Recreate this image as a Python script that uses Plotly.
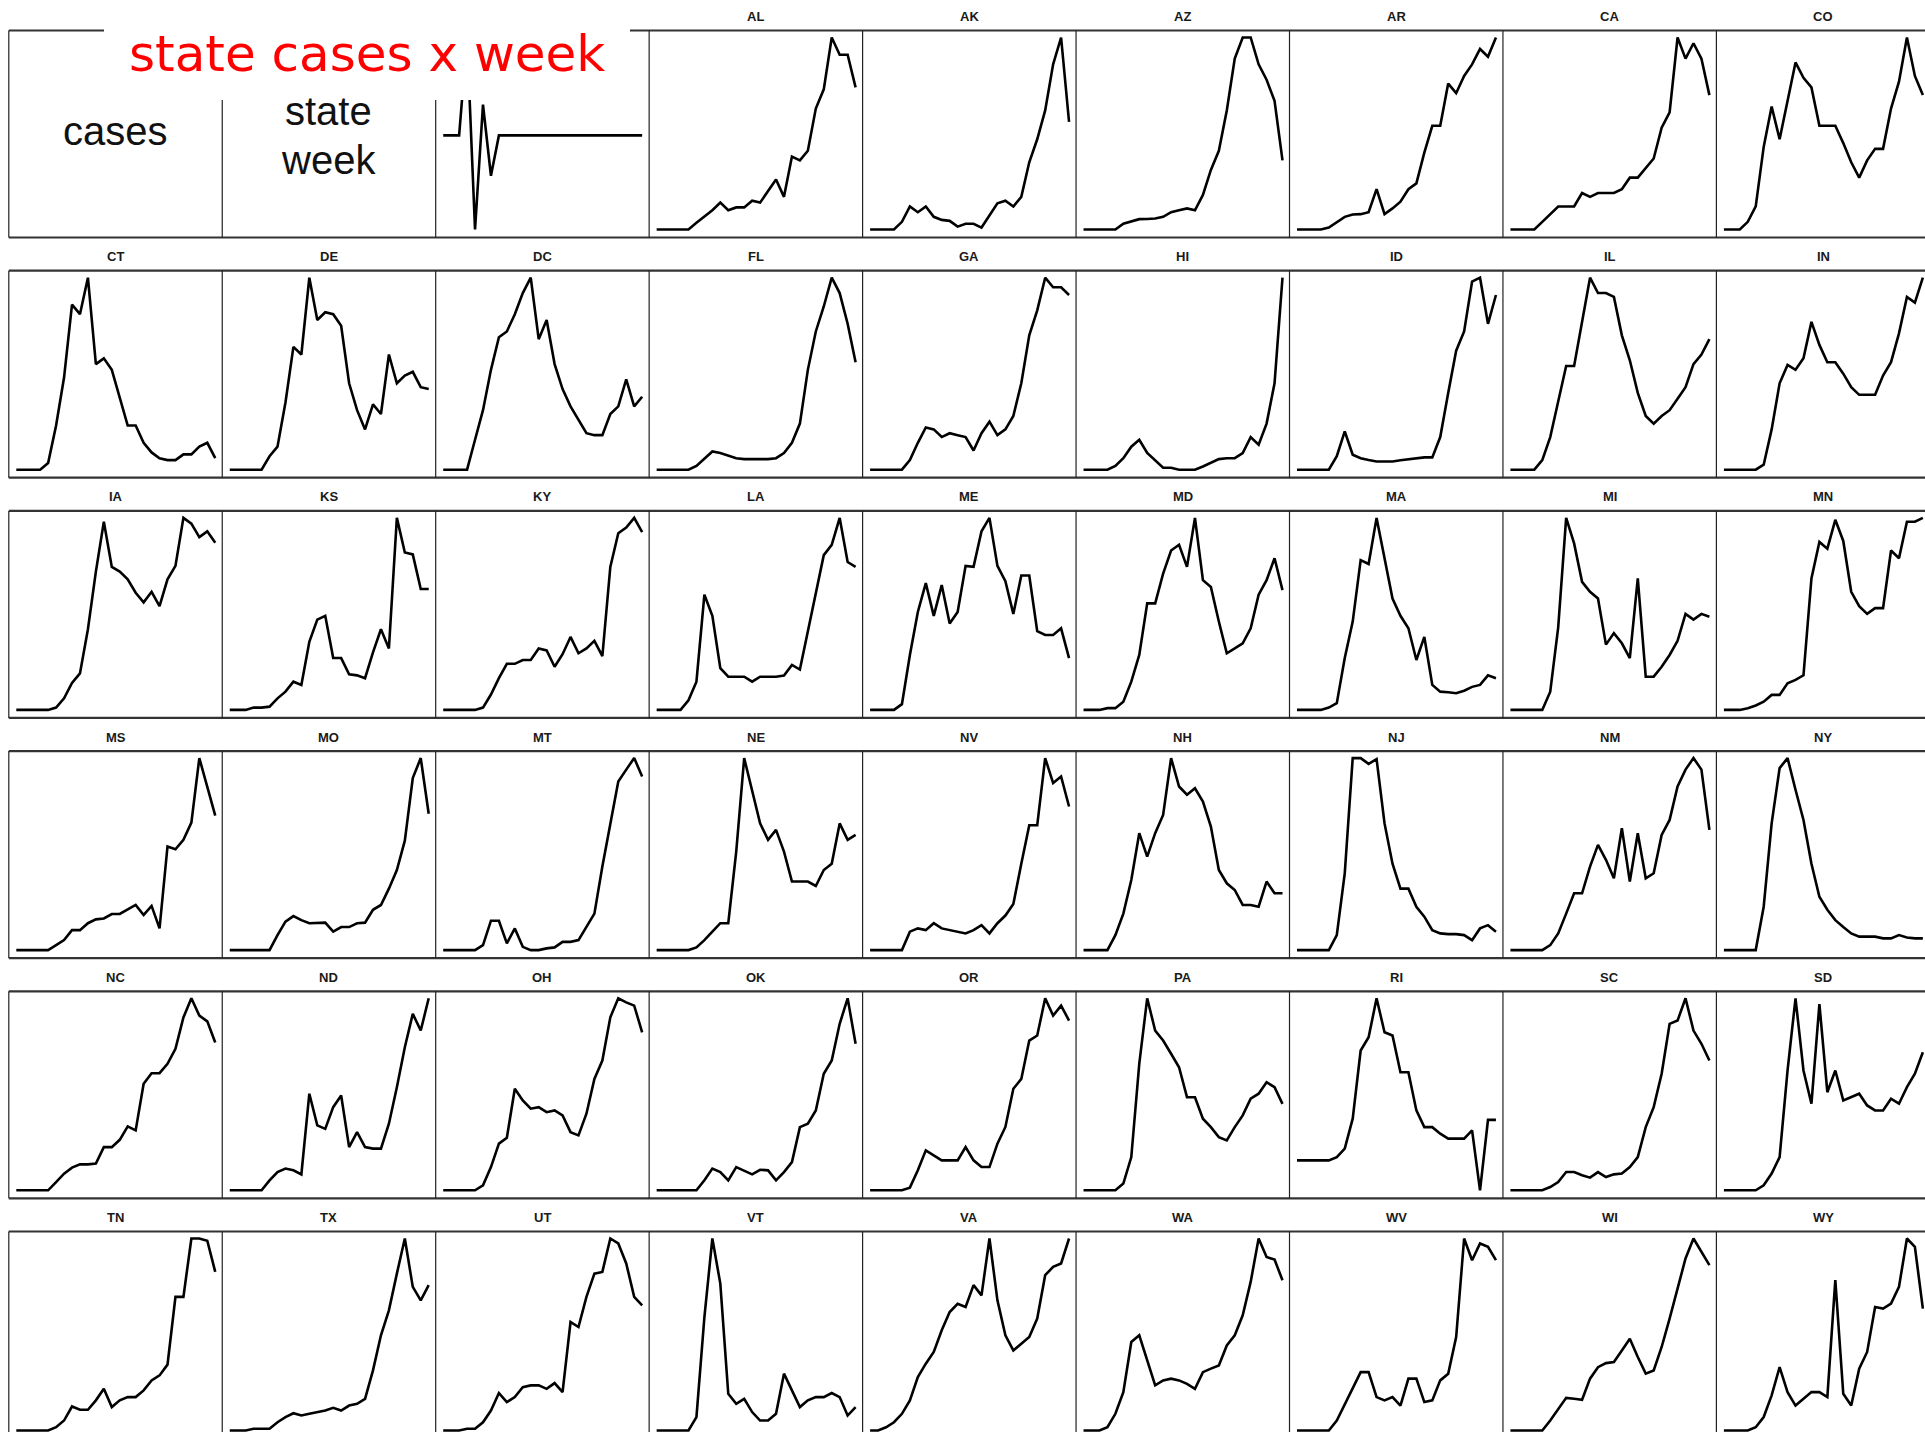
import plotly.graph_objects as go

# ---------------- data (normalised weekly cases, each state scaled to its own max) -------------
weeks = [1, 2, 3, 4, 5, 6, 7, 8, 9, 10, 11, 12, 13, 14, 15, 16, 17, 18, 19, 20, 21, 22, 23, 24, 25, 26]

deviation = [49, 49, 49, 100, 0, 65, 28, 49, 49, 49, 49, 49, 49, 49, 49, 49, 49, 49, 49, 49, 49, 49, 49, 49, 49, 49]

AL = [0, 0, 0, 0, 0, 3.5, 6.6, 10, 14, 10, 11.5, 11.5, 15, 14, 20, 26, 17, 38, 36, 41, 63, 73, 100, 91, 91, 74]
AK = [0, 0, 0, 0, 4, 12, 9, 12, 6.6, 5, 4.5, 1.5, 3, 3, 1, 7.5, 13.6, 15, 12, 17, 35, 47, 62, 86, 100, 56]
AZ = [0, 0, 0, 0, 0, 3, 4, 5.4, 5.5, 5.7, 6.6, 9, 10, 11, 10, 18, 31, 41, 62, 89, 100, 100, 86, 78, 67, 36]
AR = [0, 0, 0, 0, 1, 4, 6.6, 7.8, 8, 9, 21, 8, 11, 14.5, 21, 24, 40, 54, 54, 76, 71, 80, 86, 94, 90, 100]
CA = [0, 0, 0, 0, 4, 8, 12, 12, 12, 19, 17, 19, 19, 19, 21, 27, 27, 32, 37, 53, 61, 100, 89, 97, 89, 70]
CO = [0, 0, 0, 4, 12, 43, 64, 47, 67, 87, 79, 74, 54, 54, 54, 45, 35, 27, 36, 42, 42, 63, 77, 100, 80, 70]
CT = [0, 0, 0, 0, 3.5, 23, 48, 86, 81, 100, 55, 58, 52, 38, 23, 23, 14, 9, 6, 5, 5, 8, 8, 12, 14, 6]
DE = [0, 0, 0, 0, 0, 7, 12, 35, 64, 60, 100, 78, 82, 81, 75, 45, 31, 21, 34, 29, 60, 45, 49, 51, 43, 42]
DC = [0, 0, 0, 0, 15.6, 31, 52, 69, 72, 81, 92, 100, 68, 78, 55, 42, 33, 26, 19, 18, 18, 29, 33, 47, 33, 38]
FL = [0, 0, 0, 0, 0, 2, 6, 9.5, 8.7, 7.5, 6, 5.5, 5.5, 5.5, 5.5, 6, 8.7, 14, 24, 52, 72, 85, 100, 92, 76, 56]
GA = [0, 0, 0, 0, 0, 5, 14, 22, 21, 17, 19, 18, 17, 10, 19, 25, 18, 21, 28, 45, 70, 83, 100, 95, 95, 91]
HI = [0, 0, 0, 0, 2, 6, 12, 15.6, 8.7, 5, 1, 1, 0, 0, 0, 1.7, 3.5, 5.5, 6, 6, 8.7, 17, 13, 24, 45, 100]
ID = [0, 0, 0, 0, 0, 7, 20, 7.8, 6, 5, 4.3, 4.3, 4.3, 4.9, 5.5, 6, 6.4, 6.4, 17, 40, 62, 72, 98, 100, 76, 91]
IL = [0, 0, 0, 0, 5, 17, 35.5, 54, 54, 76, 100, 92, 92, 90, 70, 57, 40, 28, 24, 28, 31, 37, 43, 55, 60, 68]
IN = [0, 0, 0, 0, 0, 2.6, 21, 45, 54.6, 52, 58, 77, 65, 56, 56, 50, 43, 39, 39, 39, 49, 56, 71, 90, 87, 100]
IA = [0, 0, 0, 0, 0, 1.2, 6, 14, 19, 42, 72, 98, 74.5, 72, 68, 61, 56, 61.5, 54, 68, 75, 100, 97, 90, 93, 87]
KS = [0, 0, 0, 1.2, 1.2, 1.7, 6, 9.5, 14.7, 13, 35.5, 47, 49, 27, 27, 18.5, 18, 16.5, 30, 42, 32, 100, 82, 81, 63, 63]
KY = [0, 0, 0, 0, 0, 1.2, 8, 16.5, 24, 24, 26, 26, 32, 31, 22.5, 29, 38, 29.5, 32, 36, 28, 74.5, 92, 95, 100, 92.6]
LA = [0, 0, 0, 0, 5, 14.7, 60, 49, 21.7, 17.3, 17.3, 17.3, 14.7, 17.3, 17.3, 17.3, 17.9, 23.4, 21, 40.7, 60.7, 80.6, 86, 100, 77, 74.5]
ME = [0, 0, 0, 0, 3, 28.6, 51, 66, 49, 65, 45, 51, 75, 74.5, 93, 100, 75, 67, 50, 70, 70, 41, 39, 39, 42.5, 27]
MD = [0, 0, 0, 0.9, 0.9, 4.3, 14.7, 28.6, 55.5, 55.5, 71, 83, 86, 74.5, 100, 67.6, 64, 46, 29.5, 32, 34.7, 42.5, 60, 67.6, 79, 62.4]
MA = [0, 0, 0, 0, 1.2, 3.5, 27, 46, 78, 76, 100, 79, 58, 49, 42.5, 26, 38, 13, 9.5, 9.2, 8.7, 10, 12, 13, 18, 16.5]
MI = [0, 0, 0, 0, 0, 9.5, 43, 100, 86.7, 66.7, 61.5, 58, 34, 40, 34.7, 27, 68.5, 17.3, 17.3, 22.5, 28.6, 36, 50, 47, 50, 48.5]
MN = [0, 0, 0, 0.9, 2.3, 4.3, 7.8, 7.8, 13.9, 15.6, 18, 68.5, 87.5, 84, 99, 88, 61.5, 54, 50, 53, 53, 83, 79, 98, 98, 100]
MS = [0, 0, 0, 0, 0, 2.6, 5.2, 10.4, 10.4, 14, 16, 16.5, 18.8, 18.8, 21, 23.5, 18.3, 23, 11.3, 54, 52.5, 57.4, 66.4, 100, 85, 70]
MO = [0, 0, 0, 0, 0, 0, 7.8, 14.8, 17.7, 15.6, 14, 14, 14.3, 9.6, 12, 12, 14, 14.3, 21, 23.5, 32, 41.7, 57, 89.6, 100, 71]
MT = [0, 0, 0, 0, 0, 2.6, 15.3, 15.3, 3.5, 11.3, 1.7, 0, 0, 0.9, 1.4, 4.3, 4.3, 5.2, 12, 19, 43.5, 66, 87.8, 94, 100, 90.4]
NE = [0, 0, 0, 0, 0, 1.4, 5.2, 9.6, 14, 14, 51.3, 100, 82.6, 66, 57.4, 62.6, 51.3, 35.7, 35.7, 35.7, 33.4, 41.7, 45, 66, 57.4, 60]
NV = [0, 0, 0, 0, 0, 9.6, 11.3, 10.4, 14, 11.3, 10.4, 9.6, 8.7, 10.4, 13, 8.7, 14, 18, 24, 45, 65, 65, 100, 87, 90.4, 74.8]
NH = [0, 0, 0, 0, 7.8, 19, 36.5, 60.9, 48.7, 60.9, 70.4, 100, 85.2, 80.9, 84.3, 77.4, 64.3, 41.7, 34.8, 31.3, 23.5, 23.5, 22.6, 35.7, 29.6, 29.6]
NJ = [0, 0, 0, 0, 0, 7.8, 40, 100, 100, 97, 99.5, 66, 45, 32, 32, 22.6, 17.4, 10.4, 8.7, 8.3, 8.3, 7.8, 5.2, 11.3, 13, 9.6]
NM = [0, 0, 0, 0, 0, 2.6, 8.7, 19, 29.6, 29.6, 43.5, 54.8, 47, 37.4, 63.5, 35.7, 60.9, 37.4, 40, 60, 67.8, 85.2, 94, 100, 94, 62.6]
NY = [0, 0, 0, 0, 0, 22.6, 66, 94.8, 100, 83.5, 67.8, 45, 27.8, 21, 15.6, 12, 8.7, 7, 7, 7, 6.1, 6.1, 7.8, 6.6, 6.1, 6.1]
NC = [0, 0, 0, 0, 0, 4.3, 8.7, 11.8, 13.5, 13.5, 13.9, 22.5, 22.5, 26.3, 33.3, 31.2, 55.5, 61, 61, 65.9, 73.7, 90, 100, 91, 88, 77]
ND = [0, 0, 0, 0, 0, 5.2, 9.5, 11.3, 10.4, 8.3, 50.3, 33.8, 32, 43.3, 49.4, 22.5, 30.3, 22.5, 21.7, 21.7, 34.7, 53.7, 74.5, 91.9, 83.2, 100]
OH = [0, 0, 0, 0, 0, 2.6, 12.1, 24.3, 27.4, 52.9, 46.8, 42.5, 43.3, 40.7, 41.6, 39, 30.3, 28.6, 39.9, 58, 67.6, 90.1, 100, 97.9, 96.2, 82.3]
OK = [0, 0, 0, 0, 0, 0, 5.2, 11.3, 9.5, 5.2, 12.1, 10.4, 8.3, 10.7, 10.4, 5.2, 9.5, 14.7, 32.9, 34.7, 41.6, 60.7, 67.6, 86.7, 100, 76.3]
OR = [0, 0, 0, 0, 0, 1.4, 10.4, 20.8, 18.2, 15.6, 15.6, 15.6, 22.5, 15.6, 12.1, 12.1, 24.3, 33, 52.9, 58, 78, 80.6, 100, 91, 96.2, 88.4]
PA = [0, 0, 0, 0, 0, 3.5, 17.3, 65.9, 100, 83.2, 78, 71.1, 64.1, 48.5, 48.5, 37.3, 32.9, 27.7, 26, 32.9, 39, 47.7, 50.3, 56.3, 53.7, 45]
RI = [15.6, 15.6, 15.6, 15.6, 15.6, 17.3, 21.7, 37.3, 72.8, 79.7, 100, 82.3, 80.6, 61.5, 61.5, 41.6, 32.9, 32.9, 29.5, 26.9, 26.9, 26.9, 31.2, 0, 36.7, 36.7]
SC = [0, 0, 0, 0, 0, 1.7, 4.3, 9.5, 9.5, 7.8, 6.6, 9.5, 6.9, 8.3, 8.7, 12.1, 17.3, 32.9, 43.3, 60.7, 86.7, 88.4, 100, 83.2, 76.3, 67.6]
SD = [0, 0, 0, 0, 0, 2.6, 8.7, 17.3, 62.4, 100, 62.4, 45.1, 97, 51.1, 62.4, 46.8, 48.5, 50.3, 44.2, 41.6, 41.6, 47.7, 45.1, 53.7, 60.7, 71.9]
TN = [0, 0, 0, 0, 0, 1.7, 5.2, 12.5, 10.8, 10.8, 15.7, 21.7, 12.2, 15.7, 17.4, 17.4, 20.9, 26.1, 28.7, 34.3, 69.6, 69.6, 100, 100, 98.8, 82.6]
TX = [0, 0, 0, 0.9, 0.9, 0.9, 4.3, 7, 9, 7.8, 8.7, 9.6, 10.4, 11.8, 10.4, 13, 13.9, 16.5, 31.3, 49.6, 62.6, 81.7, 100, 74.8, 67.8, 75.7]
UT = [0, 0, 0, 0.9, 0.9, 4.3, 10.4, 19.5, 14.8, 17.4, 22.6, 23.5, 23.5, 21.7, 24.7, 20, 56.5, 53.9, 69.6, 81.7, 82.6, 100, 97.4, 87, 69.6, 65.2]
VT = [0, 0, 0, 0, 0, 7, 59, 100, 76.5, 19.1, 13.9, 16.5, 9.6, 5.2, 5.2, 8.7, 29.6, 20.9, 12.2, 15.7, 17.4, 17.4, 19.5, 17.4, 7.8, 12.2]
VA = [0, 0, 1.7, 4.3, 8.7, 15.7, 27.8, 34.8, 40.9, 52.2, 61.7, 66, 64.3, 75.7, 70.4, 100, 67.8, 49.6, 41.7, 45.2, 48.7, 58.3, 80.9, 85.2, 87, 100]
WA = [0, 0, 0, 1.7, 8.7, 20, 46.1, 49.6, 36.5, 23.5, 26.1, 27, 26.1, 24.3, 21.7, 30.4, 32.2, 33.9, 44.3, 49.6, 60, 77.4, 100, 90.4, 89, 78.3]
WV = [0, 0, 0, 0, 0, 5.2, 13.9, 22.6, 30.4, 30.4, 17.4, 15.7, 17.4, 13, 27, 27, 14.8, 15.7, 26.1, 29.6, 48.7, 100, 88.7, 97.4, 95.7, 88.7]
WI = [0, 0, 0, 0, 0, 5.2, 11.3, 17, 16.5, 16, 27, 33, 35.1, 35.7, 41.7, 47.8, 38.3, 29.6, 31.3, 43.5, 58.3, 73.9, 89.6, 100, 93, 86.1]
WY = [0, 0, 0, 0, 1.7, 7, 18.3, 33, 20, 13, 16.5, 20, 20, 17.4, 78.3, 19.1, 13, 32.2, 40.9, 64.3, 63.5, 66.1, 74.8, 100, 95.7, 63.5]

STATES = ["AL", "AK", "AZ", "AR", "CA", "CO",
          "CT", "DE", "DC", "FL", "GA", "HI", "ID", "IL", "IN",
          "IA", "KS", "KY", "LA", "ME", "MD", "MA", "MI", "MN",
          "MS", "MO", "MT", "NE", "NV", "NH", "NJ", "NM", "NY",
          "NC", "ND", "OH", "OK", "OR", "PA", "RI", "SC", "SD",
          "TN", "TX", "UT", "VT", "VA", "WA", "WV", "WI", "WY"]
SERIES = {"AL": AL, "AK": AK, "AZ": AZ, "AR": AR, "CA": CA, "CO": CO,
          "CT": CT, "DE": DE, "DC": DC, "FL": FL, "GA": GA, "HI": HI, "ID": ID, "IL": IL, "IN": IN,
          "IA": IA, "KS": KS, "KY": KY, "LA": LA, "ME": ME, "MD": MD, "MA": MA, "MI": MI, "MN": MN,
          "MS": MS, "MO": MO, "MT": MT, "NE": NE, "NV": NV, "NH": NH, "NJ": NJ, "NM": NM, "NY": NY,
          "NC": NC, "ND": ND, "OH": OH, "OK": OK, "OR": OR, "PA": PA, "RI": RI, "SC": SC, "SD": SD,
          "TN": TN, "TX": TX, "UT": UT, "VT": VT, "VA": VA, "WA": WA, "WV": WV, "WI": WI, "WY": WY}

TITLE = "state cases x week"

# ---------------- layout geometry (pixels) ----------------
W, H = 1925, 1432
COL_L0, COL_W = 8.8, 213.45
ROW_T0, ROW_P = 30.5, 240.2
PANEL_H = 207.0
NCOL, NROW = 9, 6

fig = go.Figure()
axes = {}
shapes = []
annotations = []


def px_x(v):
    return v / W


def px_y(v):
    return 1 - v / H


def panel_box(r, c):
    L = COL_L0 + COL_W * c
    T = ROW_T0 + ROW_P * r
    return L, T, L + COL_W, T + PANEL_H


axis_counter = [0]


def add_line_panel(r, c, vals):
    axis_counter[0] += 1
    k = axis_counter[0]
    name = "" if k == 1 else str(k)
    L, T, R, B = panel_box(r, c)
    dl, dr = L + 7.5, R - 7.0
    dt, db = T + 7.0, B - 8.0
    vmin, vmax = min(vals), max(vals)
    cL, cR = max(L, 0), min(R, W)
    cT, cB = max(T, 0), min(B, H)
    sx = (dr - dl) / (weeks[-1] - weeks[0])
    xr = [weeks[0] + (cL - dl) / sx, weeks[0] + (cR - dl) / sx]
    sy = (db - dt) / (vmax - vmin)
    yr = [vmin - (cB - db) / sy, vmax + (dt - cT) / sy]
    axes["xaxis" + name] = dict(domain=[px_x(cL), px_x(cR)], range=xr, visible=False,
                                anchor="y" + name, fixedrange=True)
    axes["yaxis" + name] = dict(domain=[px_y(cB), px_y(cT)], range=yr, visible=False,
                                anchor="x" + name, fixedrange=True)
    fig.add_trace(go.Scatter(x=weeks, y=vals, mode="lines",
                             line=dict(color="#000000", width=2.6),
                             xaxis="x" + name, yaxis="y" + name,
                             hoverinfo="skip", showlegend=False))


# special line panel (row 0, col 2)
add_line_panel(0, 2, deviation)

# state panels
for i, st in enumerate(STATES):
    slot = i + 3
    r, c = divmod(slot, NCOL)
    add_line_panel(r, c, SERIES[st])
    L, T, R, B = panel_box(r, c)
    annotations.append(dict(x=px_x((L + R) / 2), y=px_y(T - 14), xref="paper", yref="paper",
                            text="<b>" + st + "</b>", showarrow=False,
                            xanchor="center", yanchor="middle",
                            font=dict(family="Liberation Sans, Arial", size=13, color="#1a1a1a")))

# borders
HCOL = "#333333"
VCOL = "#222222"
for r in range(NROW):
    T = ROW_T0 + ROW_P * r
    B = T + PANEL_H
    for yy in (T, B):
        if yy < H:
            shapes.append(dict(type="line", xref="paper", yref="paper",
                               x0=px_x(COL_L0), x1=1, y0=px_y(yy), y1=px_y(yy),
                               line=dict(color=HCOL, width=2.2), layer="above"))
    for c in range(NCOL + 1):
        xx = COL_L0 + COL_W * c
        if xx < W:
            shapes.append(dict(type="line", xref="paper", yref="paper",
                               x0=px_x(xx), x1=px_x(xx), y0=px_y(T), y1=px_y(min(B, H)),
                               line=dict(color=VCOL, width=1.2), layer="above"))

# white title box over the first panels
shapes.append(dict(type="rect", xref="paper", yref="paper",
                   x0=px_x(104), x1=px_x(630), y0=px_y(100), y1=1,
                   fillcolor="white", line=dict(width=0), layer="above"))

# text panels
TXT = dict(family="Liberation Sans, Arial", size=40, color="#111111")
annotations.append(dict(x=px_x(115), y=px_y(131), xref="paper", yref="paper", text="cases",
                        showarrow=False, xanchor="center", yanchor="middle", font=TXT))
annotations.append(dict(x=px_x(328.5), y=px_y(111), xref="paper", yref="paper", text="state",
                        showarrow=False, xanchor="center", yanchor="middle", font=TXT))
annotations.append(dict(x=px_x(328.5), y=px_y(160), xref="paper", yref="paper", text="week",
                        showarrow=False, xanchor="center", yanchor="middle", font=TXT))
annotations.append(dict(x=px_x(366.5), y=px_y(54), xref="paper", yref="paper", text=TITLE,
                        showarrow=False, xanchor="center", yanchor="middle",
                        font=dict(family="DejaVu Sans", size=50, color="#ff0000")))

fig.update_layout(width=W, height=H, autosize=False,
                  margin=dict(l=0, r=0, t=0, b=0, pad=0),
                  paper_bgcolor="white", plot_bgcolor="rgba(0,0,0,0)",
                  showlegend=False, shapes=shapes, annotations=annotations,
                  **axes)

fig.write_html("out.html", config={"displayModeBar": False},
               post_script="document.body.style.margin='0';document.body.style.overflow='hidden';")
